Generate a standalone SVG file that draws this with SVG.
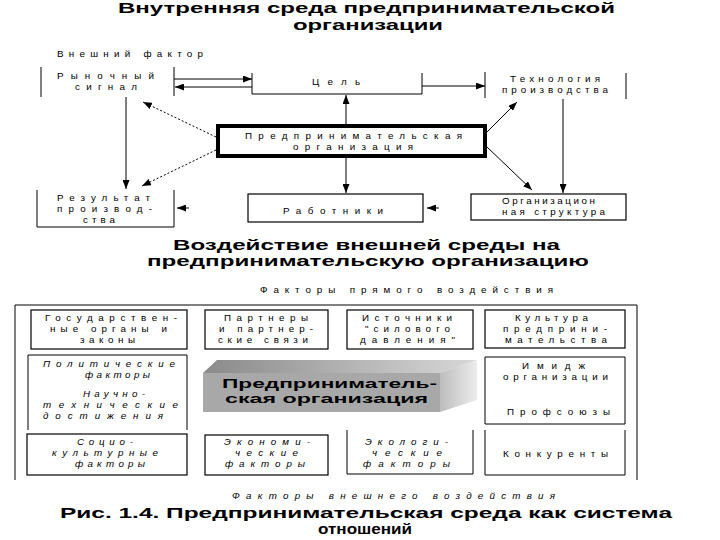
<svg xmlns="http://www.w3.org/2000/svg" width="720" height="540" viewBox="0 0 720 540">
<style>
.t{font-family:"Liberation Sans",Arial,sans-serif;font-size:9.8px;fill:#000}
.i{font-style:italic}
.h{font-family:"Liberation Sans",Arial,sans-serif;font-size:15px;font-weight:bold;fill:#000}
.hb{font-family:"Liberation Sans",Arial,sans-serif;font-size:14px;font-weight:bold;fill:#000}
.hc{font-family:"Liberation Sans",Arial,sans-serif;font-size:13px;font-weight:bold;fill:#000}
.ln{stroke:#000;stroke-width:1;fill:none}
.bx{stroke:#000;stroke-width:1.2;fill:#fff}
.dot{stroke:#000;stroke-width:1;fill:none;stroke-dasharray:2,2}
.ar{marker-end:url(#ah)}
</style>
<defs>
<marker id="ah" markerUnits="userSpaceOnUse" markerWidth="9" markerHeight="7" refX="9" refY="3.5" orient="auto">
<path d="M0,0 L9,3.5 L0,7 z" fill="#000"/>
</marker>
<linearGradient id="gTop" x1="0" y1="0" x2="1" y2="0">
<stop offset="0" stop-color="#8a8a8a"/><stop offset="1" stop-color="#d8d8d8"/>
</linearGradient>
<linearGradient id="gSide" x1="0" y1="0" x2="1" y2="0">
<stop offset="0" stop-color="#bdbdbd"/><stop offset="1" stop-color="#ececec"/>
</linearGradient>
</defs>
<rect width="720" height="540" fill="#fff"/>

<!-- Titles -->
<text class="h" x="118" y="13" textLength="497" lengthAdjust="spacingAndGlyphs">Внутренняя среда предпринимательской</text>
<text class="h" x="293" y="30" textLength="150" lengthAdjust="spacingAndGlyphs">организации</text>
<text class="t" x="57" y="57" textLength="146" lengthAdjust="spacing">Внешний фактор</text>

<!-- Top nodes -->
<g id="rynochny">
<line class="ln" x1="41" y1="67" x2="41" y2="97"/>
<line class="ln" x1="174" y1="67" x2="174" y2="96" stroke-width="2"/>
<text class="t" x="57" y="79" textLength="97" lengthAdjust="spacing">Рыночный</text>
<text class="t" x="75" y="90" textLength="62" lengthAdjust="spacing">сигнал</text>
</g>
<g id="tsel">
<polyline class="ln" points="252,73 252,94 422,94 422,73"/>
<text class="t" x="312" y="85" textLength="48" lengthAdjust="spacing">Цель</text>
</g>
<g id="tekhnologiya">
<line class="ln" x1="485" y1="72" x2="485" y2="98"/>
<line class="ln" x1="626" y1="73" x2="626" y2="99"/>
<text class="t" x="510" y="82" textLength="90" lengthAdjust="spacing">Технология</text>
<text class="t" x="502" y="93" textLength="106" lengthAdjust="spacing">производства</text>
</g>
<g id="predpr-org">
<rect x="218" y="126" width="267" height="30" fill="#fff" stroke="#000" stroke-width="4"/>
<text class="t" x="245" y="139" textLength="217" lengthAdjust="spacing">Предпринимательская</text>
<text class="t" x="293" y="150" textLength="120" lengthAdjust="spacing">организация</text>
</g>
<g id="rezultat">
<polyline class="ln" points="37,190 37,227 174,227 174,190" stroke-width="1.5"/>
<text class="t" x="57" y="201" textLength="93" lengthAdjust="spacing">Результат</text>
<text class="t" x="57" y="212" textLength="95" lengthAdjust="spacing">производ-</text>
<text class="t" x="83" y="223" textLength="32" lengthAdjust="spacing">ства</text>
</g>
<g id="rabotniki">
<rect class="bx" x="248" y="194" width="175" height="28"/>
<text class="t" x="283" y="214" textLength="100" lengthAdjust="spacing">Работники</text>
</g>
<g id="org-struktura">
<rect class="bx" x="471" y="194" width="155" height="26"/>
<text class="t" x="502" y="204" textLength="93" lengthAdjust="spacing">Организацион</text>
<text class="t" x="502" y="215" textLength="103" lengthAdjust="spacing">ная структура</text>
</g>

<!-- Top connectors -->
<g id="connectors-top">
<line class="ln ar" x1="174" y1="79" x2="252" y2="79"/>
<line class="ln ar" x1="252" y1="87" x2="175" y2="87"/>
<line class="ln ar" x1="422" y1="86" x2="485" y2="86"/>
<line class="ln ar" x1="346" y1="124" x2="346" y2="95"/>
<line class="ln ar" x1="346" y1="158" x2="346" y2="193"/>
<line class="ln ar" x1="126" y1="97" x2="126" y2="189"/>
<line class="dot ar" x1="216" y1="137" x2="143" y2="102"/>
<line class="dot ar" x1="216" y1="150" x2="142" y2="186"/>
<line class="ln ar" x1="487" y1="132" x2="517" y2="102"/>
<line class="ln ar" x1="487" y1="147" x2="532" y2="190"/>
<line class="ln ar" x1="563" y1="99" x2="563" y2="193"/>
<line class="ln ar" x1="189" y1="208" x2="177" y2="208"/>
<line class="ln ar" x1="439" y1="208" x2="427" y2="208"/>
</g>

<!-- Bottom section -->
<text class="hb" x="173" y="250" textLength="387" lengthAdjust="spacingAndGlyphs">Воздействие внешней среды на</text>
<text class="hb" x="147" y="266" textLength="442" lengthAdjust="spacingAndGlyphs">предпринимательскую организацию</text>
<text class="t" x="260" y="293" textLength="293" lengthAdjust="spacing">Факторы прямого воздействия</text>

<g id="frame">
<polyline class="ln" points="15,480 15,305 637,305 637,480" stroke-width="1.5"/>
</g>

<g id="gos-organy">
<rect class="bx" x="31" y="310" width="156" height="39"/>
<text class="t" x="45" y="321" textLength="132" lengthAdjust="spacing">Государствен-</text>
<text class="t" x="50" y="332" textLength="117" lengthAdjust="spacing">ные органы и</text>
<text class="t" x="80" y="343" textLength="55" lengthAdjust="spacing">законы</text>
</g>
<g id="partnery">
<rect class="bx" x="205" y="310" width="123" height="39"/>
<text class="t" x="224" y="321" textLength="84" lengthAdjust="spacing">Партнеры</text>
<text class="t" x="219" y="332" textLength="94" lengthAdjust="spacing">и партнер-</text>
<text class="t" x="218" y="343" textLength="90" lengthAdjust="spacing">ские связи</text>
</g>
<g id="istochniki">
<rect class="bx" x="347" y="310" width="126" height="39"/>
<text class="t" x="362" y="321" textLength="90" lengthAdjust="spacing">Источники</text>
<text class="t" x="365" y="332" textLength="85" lengthAdjust="spacing">"силового</text>
<text class="t" x="360" y="343" textLength="95" lengthAdjust="spacing">давления"</text>
</g>
<g id="kultura">
<rect class="bx" x="485" y="310" width="140" height="38"/>
<text class="t" x="515" y="321" textLength="73" lengthAdjust="spacing">Культура</text>
<text class="t" x="503" y="332" textLength="104" lengthAdjust="spacing">предприни-</text>
<text class="t" x="505" y="343" textLength="102" lengthAdjust="spacing">мательства</text>
</g>
<g id="polit-nauch">
<polyline class="ln" points="28,430 28,355 187,355 187,430" stroke-width="1.5"/>
<text class="t i" x="43" y="367" textLength="132" lengthAdjust="spacing">Политические</text>
<text class="t i" x="85" y="378" textLength="65" lengthAdjust="spacing">факторы</text>
<text class="t i" x="83" y="397" textLength="62" lengthAdjust="spacing">Научно-</text>
<text class="t i" x="43" y="408" textLength="135" lengthAdjust="spacing">технические</text>
<text class="t i" x="43" y="419" textLength="120" lengthAdjust="spacing">достижения</text>
</g>
<g id="predpr-3d">
<polygon points="203,373 217,360 477,360 440,373" fill="url(#gTop)"/>
<polygon points="440,373 477,360 477,400 440,412" fill="url(#gSide)"/>
<rect x="203" y="373" width="237" height="39" fill="#a8a8a8"/>
<text class="hc" x="222" y="388" textLength="215" lengthAdjust="spacingAndGlyphs">Предприниматель-</text>
<text class="hc" x="225" y="403" textLength="203" lengthAdjust="spacingAndGlyphs">ская организация</text>
</g>
<g id="imidzh-profsoyuzy">
<polyline class="ln" points="485,392 485,357 625,357 625,424 485,424 485,392" stroke-width="1.2"/>
<text class="t" x="522" y="369" textLength="63" lengthAdjust="spacing">Имидж</text>
<text class="t" x="503" y="380" textLength="105" lengthAdjust="spacing">организации</text>
<text class="t" x="507" y="415" textLength="103" lengthAdjust="spacing">Профсоюзы</text>
</g>
<g id="sotsio">
<rect class="bx" x="27" y="434" width="160" height="41"/>
<text class="t i" x="77" y="445" textLength="56" lengthAdjust="spacing">Социо-</text>
<text class="t i" x="52" y="456" textLength="106" lengthAdjust="spacing">культурные</text>
<text class="t i" x="75" y="467" textLength="70" lengthAdjust="spacing">факторы</text>
</g>
<g id="ekonom">
<rect class="bx" x="205" y="435" width="123" height="40"/>
<text class="t i" x="224" y="445" textLength="86" lengthAdjust="spacing">Экономи-</text>
<text class="t i" x="235" y="456" textLength="63" lengthAdjust="spacing">ческие</text>
<text class="t i" x="225" y="467" textLength="80" lengthAdjust="spacing">факторы</text>
</g>
<g id="ekolog">
<polyline class="ln" points="347,430 347,474 473,474 473,430"/>
<text class="t i" x="365" y="445" textLength="83" lengthAdjust="spacing">Экологи-</text>
<text class="t i" x="372" y="456" textLength="70" lengthAdjust="spacing">ческие</text>
<text class="t i" x="363" y="467" textLength="87" lengthAdjust="spacing">факторы</text>
</g>
<g id="konkurenty">
<polyline class="ln" points="485,430 485,475 625,475 625,430"/>
<text class="t" x="503" y="457" textLength="105" lengthAdjust="spacing">Конкуренты</text>
</g>

<text class="t i" x="232" y="499" textLength="323" lengthAdjust="spacing">Факторы внешнего воздействия</text>
<text class="hb" x="60" y="518" textLength="612" lengthAdjust="spacingAndGlyphs">Рис. 1.4.  Предпринимательская среда как система</text>
<text class="hb" x="318" y="534" textLength="94" lengthAdjust="spacingAndGlyphs">отношений</text>
</svg>
